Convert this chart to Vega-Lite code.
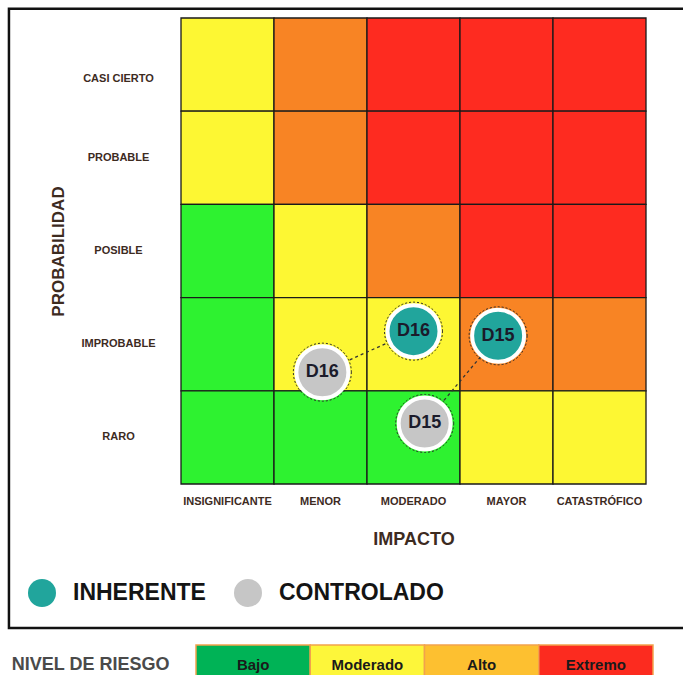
{
  "$schema": "https://vega.github.io/schema/vega-lite/v6.json",
  "padding": {"top": 7, "left": 7, "right": 0, "bottom": 0},
  "background": "white",
  "config": {
    "view": {"stroke": null},
    "font": "Liberation Sans",
    "axis": {"domain": false, "ticks": false, "grid": false}
  },
  "datasets": {
    "matriz": [
      {"impacto": "INSIGNIFICANTE", "probabilidad": "CASI CIERTO", "nivel": "Moderado"},
      {"impacto": "MENOR", "probabilidad": "CASI CIERTO", "nivel": "Alto"},
      {"impacto": "MODERADO", "probabilidad": "CASI CIERTO", "nivel": "Extremo"},
      {"impacto": "MAYOR", "probabilidad": "CASI CIERTO", "nivel": "Extremo"},
      {"impacto": "CATASTRÓFICO", "probabilidad": "CASI CIERTO", "nivel": "Extremo"},
      {"impacto": "INSIGNIFICANTE", "probabilidad": "PROBABLE", "nivel": "Moderado"},
      {"impacto": "MENOR", "probabilidad": "PROBABLE", "nivel": "Alto"},
      {"impacto": "MODERADO", "probabilidad": "PROBABLE", "nivel": "Extremo"},
      {"impacto": "MAYOR", "probabilidad": "PROBABLE", "nivel": "Extremo"},
      {"impacto": "CATASTRÓFICO", "probabilidad": "PROBABLE", "nivel": "Extremo"},
      {"impacto": "INSIGNIFICANTE", "probabilidad": "POSIBLE", "nivel": "Bajo"},
      {"impacto": "MENOR", "probabilidad": "POSIBLE", "nivel": "Moderado"},
      {"impacto": "MODERADO", "probabilidad": "POSIBLE", "nivel": "Alto"},
      {"impacto": "MAYOR", "probabilidad": "POSIBLE", "nivel": "Extremo"},
      {"impacto": "CATASTRÓFICO", "probabilidad": "POSIBLE", "nivel": "Extremo"},
      {"impacto": "INSIGNIFICANTE", "probabilidad": "IMPROBABLE", "nivel": "Bajo"},
      {"impacto": "MENOR", "probabilidad": "IMPROBABLE", "nivel": "Moderado"},
      {"impacto": "MODERADO", "probabilidad": "IMPROBABLE", "nivel": "Moderado"},
      {"impacto": "MAYOR", "probabilidad": "IMPROBABLE", "nivel": "Alto"},
      {"impacto": "CATASTRÓFICO", "probabilidad": "IMPROBABLE", "nivel": "Alto"},
      {"impacto": "INSIGNIFICANTE", "probabilidad": "RARO", "nivel": "Bajo"},
      {"impacto": "MENOR", "probabilidad": "RARO", "nivel": "Bajo"},
      {"impacto": "MODERADO", "probabilidad": "RARO", "nivel": "Bajo"},
      {"impacto": "MAYOR", "probabilidad": "RARO", "nivel": "Moderado"},
      {"impacto": "CATASTRÓFICO", "probabilidad": "RARO", "nivel": "Moderado"}
    ],
    "puntos": [
      {"id": "D16", "tipo": "INHERENTE", "impacto": 3.0, "probabilidad": 2.14},
      {"id": "D16", "tipo": "CONTROLADO", "impacto": 2.02, "probabilidad": 1.70},
      {"id": "D15", "tipo": "INHERENTE", "impacto": 3.91, "probabilidad": 2.09},
      {"id": "D15", "tipo": "CONTROLADO", "impacto": 3.12, "probabilidad": 1.15}
    ],
    "niveles": [
      {"nivel": "Bajo", "grupo": "NIVEL DE RIESGO"},
      {"nivel": "Moderado", "grupo": "NIVEL DE RIESGO"},
      {"nivel": "Alto", "grupo": "NIVEL DE RIESGO"},
      {"nivel": "Extremo", "grupo": "NIVEL DE RIESGO"}
    ]
  },
  "spacing": 14,
  "resolve": {"scale": {"color": "independent", "x": "independent", "y": "independent"}},
  "vconcat": [
    {
      "width": 465,
      "height": 466,
      "resolve": {"scale": {"x": "independent", "y": "independent", "color": "independent"}},
      "layer": [
        {
          "data": {"name": "matriz"},
          "mark": {"type": "rect", "stroke": "#1a1a1a", "strokeWidth": 1.3},
          "encoding": {
            "x": {
              "field": "impacto", "type": "nominal",
              "sort": ["INSIGNIFICANTE", "MENOR", "MODERADO", "MAYOR", "CATASTRÓFICO"],
              "scale": {"paddingInner": 0, "paddingOuter": 0},
              "axis": {
                "title": "IMPACTO", "labelAngle": 0, "labelPadding": 11,
                "labelFont": "Liberation Sans",
                "labelFontSize": 11, "labelFontWeight": "bold", "labelColor": "#3d2b1f",
                "titleFont": "Liberation Sans", "titleFontSize": 18, "titleFontWeight": "bold",
                "titleColor": "#3d2b1f", "titleY": 46, "titleBaseline": "top"
              }
            },
            "y": {
              "field": "probabilidad", "type": "nominal",
              "sort": ["CASI CIERTO", "PROBABLE", "POSIBLE", "IMPROBABLE", "RARO"],
              "scale": {"paddingInner": 0, "paddingOuter": 0},
              "axis": {
                "title": "PROBABILIDAD", "labelAlign": "center", "labelPadding": 63,
                "labelOffset": {"condition": {"test": "datum.value === 'CASI CIERTO'", "value": 14}, "value": 0},
                "labelFont": "Liberation Sans",
                "labelFontSize": 11, "labelFontWeight": "bold", "labelColor": "#3d2b1f",
                "titleFont": "Liberation Sans", "titleFontSize": 17, "titleFontWeight": "bold",
                "titleColor": "#3d2b1f", "titleX": -114
              }
            },
            "color": {
              "field": "nivel", "type": "nominal",
              "scale": {"domain": ["Bajo", "Moderado", "Alto", "Extremo"], "range": ["#2ef230", "#fdf733", "#f88424", "#fe2b20"]},
              "legend": null
            }
          }
        },
        {
          "layer": [
            {
              "data": {"values": [{}]},
              "mark": {"type": "rect", "fill": null, "stroke": "#111111", "strokeWidth": 2.5},
              "encoding": {
                "x": {"datum": -1.35, "type": "quantitative", "scale": {"domain": [0.5, 5.5], "nice": false, "zero": false}, "axis": null},
                "x2": {"datum": 6.2},
                "y": {"datum": 5.6, "type": "quantitative", "scale": {"domain": [0.5, 5.5], "nice": false, "zero": false}, "axis": null},
                "y2": {"datum": -1.045}
              }
            },
            {
              "data": {"name": "puntos"},
              "mark": {"type": "line", "stroke": "#333333", "strokeWidth": 1.3, "strokeDash": [3, 3]},
              "encoding": {
                "x": {"field": "impacto", "type": "quantitative", "scale": {"domain": [0.5, 5.5], "nice": false, "zero": false}, "axis": null},
                "y": {"field": "probabilidad", "type": "quantitative", "scale": {"domain": [0.5, 5.5], "nice": false, "zero": false}, "axis": null},
                "detail": {"field": "id"}
              }
            },
            {
              "data": {"name": "puntos"},
              "mark": {"type": "point", "shape": "circle", "filled": true, "size": 2704, "opacity": 1, "stroke": "white", "strokeWidth": 4},
              "encoding": {
                "x": {"field": "impacto", "type": "quantitative", "scale": {"domain": [0.5, 5.5], "nice": false, "zero": false}, "axis": null},
                "y": {"field": "probabilidad", "type": "quantitative", "scale": {"domain": [0.5, 5.5], "nice": false, "zero": false}, "axis": null},
                "color": {
                  "field": "tipo", "type": "nominal",
                  "scale": {"domain": ["INHERENTE", "CONTROLADO"], "range": ["#21a59c", "#c6c6c6"]},
                  "legend": {
                    "title": null, "orient": "none", "legendX": -153, "legendY": 561,
                    "direction": "horizontal", "symbolType": "circle", "symbolSize": 784,
                    "symbolStrokeWidth": 0, "symbolOpacity": 1,
                    "labelFont": "Liberation Sans", "labelFontSize": 23, "labelFontWeight": "bold",
                    "labelColor": "#141414", "labelOffset": 17, "columnPadding": 28, "labelLimit": 300
                  }
                }
              }
            },
            {
              "data": {"name": "puntos"},
              "mark": {"type": "point", "shape": "circle", "filled": false, "size": 3364, "stroke": "#2a2a2a", "strokeWidth": 1, "strokeDash": [2, 2], "opacity": 1},
              "encoding": {
                "x": {"field": "impacto", "type": "quantitative", "scale": {"domain": [0.5, 5.5], "nice": false, "zero": false}, "axis": null},
                "y": {"field": "probabilidad", "type": "quantitative", "scale": {"domain": [0.5, 5.5], "nice": false, "zero": false}, "axis": null}
              }
            },
            {
              "data": {"name": "puntos"},
              "mark": {"type": "text", "fontSize": 18, "fontWeight": "bold", "color": "#1b1b2b", "font": "Liberation Sans"},
              "encoding": {
                "x": {"field": "impacto", "type": "quantitative", "scale": {"domain": [0.5, 5.5], "nice": false, "zero": false}, "axis": null},
                "y": {"field": "probabilidad", "type": "quantitative", "scale": {"domain": [0.5, 5.5], "nice": false, "zero": false}, "axis": null},
                "text": {"field": "id"}
              }
            }
          ]
        }
      ]
    },
    {
      "width": 487,
      "height": 40,
      "data": {"name": "niveles"},
      "encoding": {
        "x": {
          "field": "nivel", "type": "nominal",
          "sort": ["Bajo", "Moderado", "Alto", "Extremo"],
          "scale": {"paddingInner": 0, "paddingOuter": 0.1313},
          "axis": null
        },
        "y": {
          "field": "grupo", "type": "nominal",
          "scale": {"paddingInner": 0, "paddingOuter": 0},
          "axis": {"title": null, "labelFont": "Liberation Sans", "labelFontSize": 18, "labelFontWeight": "bold", "labelColor": "#4a4a4a", "labelPadding": 12, "labelLimit": 300}
        }
      },
      "layer": [
        {
          "mark": {"type": "rect", "stroke": "#f2a24c", "strokeWidth": 1.5},
          "encoding": {
            "color": {
              "field": "nivel", "type": "nominal",
              "scale": {"domain": ["Bajo", "Moderado", "Alto", "Extremo"], "range": ["#00b356", "#fdf63a", "#fdc030", "#fc2b1f"]},
              "legend": null
            }
          }
        },
        {
          "mark": {"type": "text", "fontSize": 15, "fontWeight": "bold", "color": "#1a1a1a", "font": "Liberation Sans"},
          "encoding": {"text": {"field": "nivel"}}
        }
      ]
    }
  ]
}
